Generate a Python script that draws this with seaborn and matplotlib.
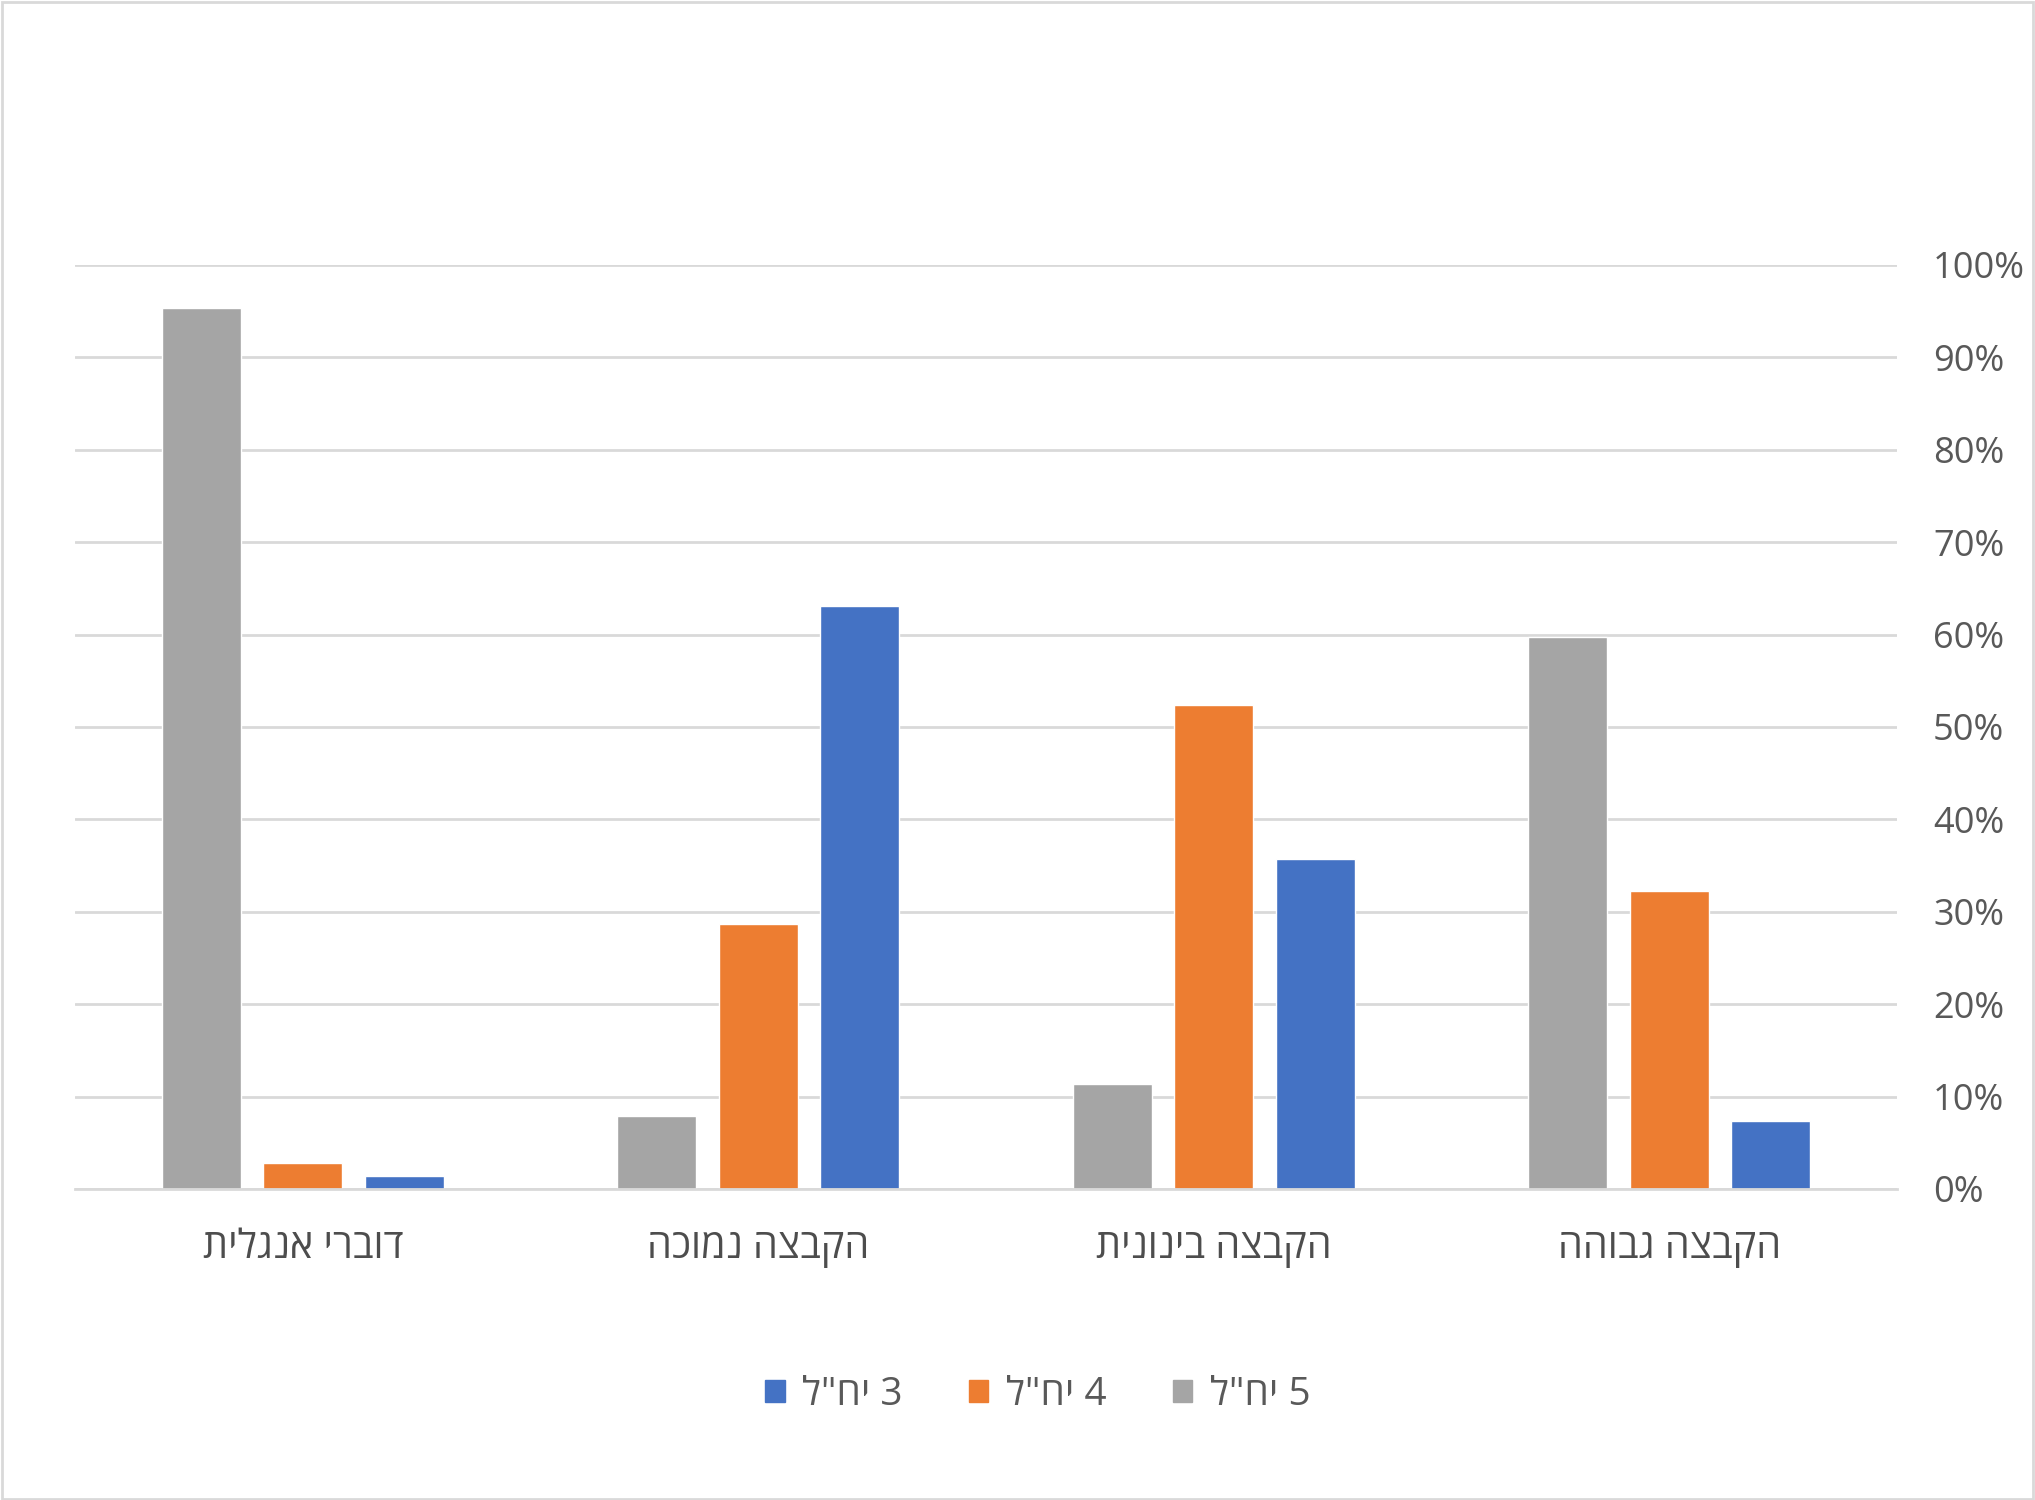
import pandas as pd
import matplotlib.pyplot as plt
import seaborn as sns
from matplotlib.ticker import PercentFormatter
from matplotlib.patches import Patch, Rectangle

# categories in visual order, left to right
categories = ['דוברי אנגלית', 'הקבצה נמוכה', 'הקבצה בינונית', 'הקבצה גבוהה']
series = ['5 יח"ל', '4 יח"ל', '3 יח"ל']
vals_5 = [95.4, 7.9, 11.4, 59.7]
vals_4 = [2.8, 28.7, 52.4, 32.3]
vals_3 = [1.4, 63.1, 35.7, 7.4]
colors = {'5 יח"ל': '#a5a5a5', '4 יח"ל': '#ed7d31', '3 יח"ל': '#4472c4'}


def vis(s):
    # matplotlib has no bidi support, so reverse Hebrew for display
    return s[::-1]


def main():
    rows = []
    for name, vals in zip(series, [vals_5, vals_4, vals_3]):
        for cat, v in zip(categories, vals):
            rows.append({'cat': vis(cat), 'series': name, 'value': v})
    data = pd.DataFrame(rows)

    sns.set_style('white')
    plt.rcParams['font.family'] = ['Open Sans', 'DejaVu Sans']

    fig = plt.figure(figsize=(20.35, 15), dpi=100)
    ax = fig.add_axes([75 / 2035, 1 - 1189 / 1500, (1897 - 75) / 2035, (1189 - 265) / 1500])

    sns.barplot(data=data, x='cat', y='value', hue='series', hue_order=series,
                palette=colors, width=0.667, gap=0.22, ax=ax, legend=False,
                saturation=1, order=[vis(c) for c in categories])

    ax.set_xlim(-0.5, 3.5)
    ax.set_ylim(0, 100)
    ax.set_yticks(range(0, 101, 10))
    ax.yaxis.set_major_formatter(PercentFormatter(decimals=0))
    ax.yaxis.tick_right()
    ax.grid(axis='y', color='#d9d9d9', linewidth=2)
    ax.set_axisbelow(True)
    for s in ['top', 'left', 'right']:
        ax.spines[s].set_visible(False)
    ax.spines['bottom'].set_color('#d9d9d9')
    ax.spines['bottom'].set_linewidth(2)
    ax.tick_params(axis='y', length=0, labelsize=26, labelcolor='#595959', pad=26)
    ax.tick_params(axis='x', length=0, labelsize=28.5, labelcolor='#4d4d4d', pad=28)
    ax.set_xlabel('')
    ax.set_ylabel('')

    handles = [Patch(color=colors[s]) for s in ['3 יח"ל', '4 יח"ל', '5 יח"ל']]
    labels = [vis(s) for s in ['3 יח"ל', '4 יח"ל', '5 יח"ל']]
    fig.legend(handles, labels, loc='center', bbox_to_anchor=(0.51, 1 - 1395 / 1500),
               ncol=3, frameon=False, fontsize=28, labelcolor='#595959',
               handlelength=0.5, handleheight=0.5, handletextpad=0.45, columnspacing=1.7)

    fig.add_artist(Rectangle((0.001, 0.001), 0.998, 0.998, transform=fig.transFigure,
                             fill=False, edgecolor='#d9d9d9', linewidth=2))

    fig.savefig('out.png', dpi=100)


if __name__ == "__main__":
    main()
